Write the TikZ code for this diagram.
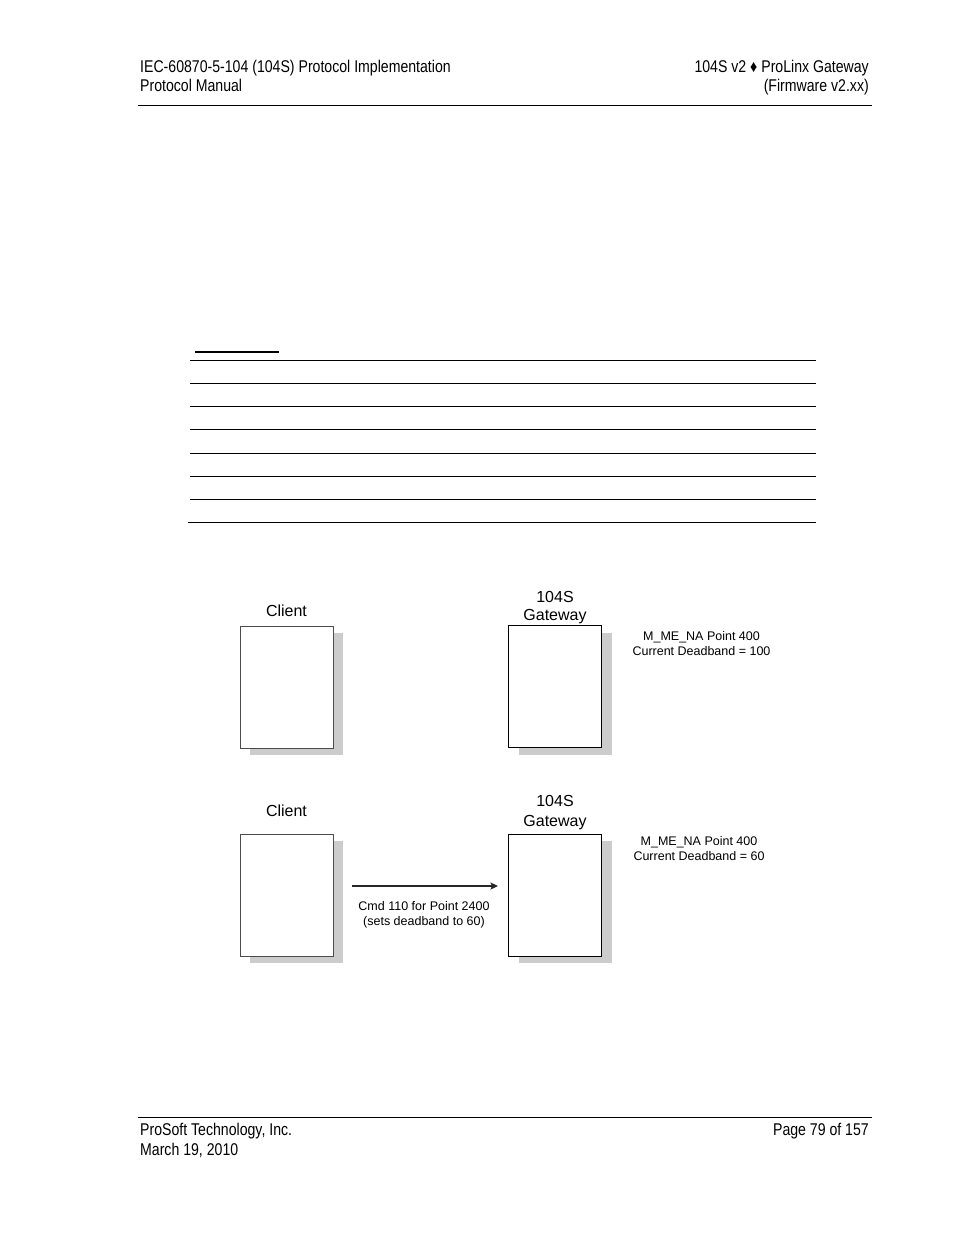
\documentclass[tikz,border=0pt]{standalone}
\usepackage{fontspec}
\setmainfont{Liberation Sans}
\newfontfamily\narrowfont{Liberation Sans}[FakeStretch=0.83]
\usetikzlibrary{arrows,arrows.meta,positioning,shadows}
\tikzset{
    %Define standard arrow tip
    >={Stealth[length=7.5pt,width=7pt,inset=1.5pt]},
    %Define style for page text
    pagetext/.style={
           inner sep=0pt,
           font=\narrowfont\fontsize{17}{19}\selectfont},
    %Define style for boxes
    device/.style={
           rectangle,
           draw=black!70,
           fill=white,
           line width=0.8pt,
           minimum width=93pt,
           minimum height=122pt,
           inner sep=0pt,
           drop shadow={shadow xshift=10pt, shadow yshift=-7pt,
                        fill=black!20, opacity=1}},
    gateway/.style={
           device,
           draw=black,
           line width=1pt},
    label/.style={
           inner sep=0pt,
           align=center,
           font=\fontsize{16}{18}\selectfont},
    info/.style={
           inner sep=0pt,
           align=center,
           font=\fontsize{12.5}{15}\selectfont},
    % Define arrow style
    pil/.style={
           ->,
           draw=black!85,
           line width=1.4pt,
           shorten <=19pt,
           shorten >=10pt}
}

\begin{document}
\begin{tikzpicture}[x=1pt,y=-1pt]
\useasboundingbox (0,0) rectangle (954,1235);
\fill[white] (0,0) rectangle (954,1235);

 %header and footer
\node[pagetext, anchor=base west] (hl1) at (140,72) {IEC-60870-5-104 (104S) Protocol Implementation};
\node[pagetext, anchor=base west] (hl2) at (140,91) {Protocol Manual};
\node[pagetext, anchor=base east] (hr1) at (869,72) {104S v2 ♦ ProLinx Gateway};
\node[pagetext, anchor=base east] (hr2) at (869,91) {(Firmware v2.xx)};
\draw[line width=1pt] (138,105) -- (872,105);

\draw[line width=1pt] (138,1117) -- (872,1117);
\node[pagetext, anchor=base west] (fl1) at (140,1135) {ProSoft Technology, Inc.};
\node[pagetext, anchor=base west] (fl2) at (140,1155) {March 19, 2010};
\node[pagetext, anchor=base east] (fr1) at (869,1135) {Page 79 of 157};

 %table rules
\draw[line width=2.4pt] (195,352) -- (279,352);
\foreach \y in {360.7,383.3,406.3,429.3,453.3,476.3,499.3}
    \draw[line width=1pt] (190,\y) -- (816,\y);
\draw[line width=1pt] (188,522.3) -- (816,522.3);

 %nodes
\node[device](client1) at (286.5,687){};
\node[gateway](gateway1) at (555,686.5){};
\node[label, above=8.5pt of client1](clientlbl1){Client};
\node[label, above=1pt of gateway1](gatewaylbl1){104S\\Gateway};
\node[info](info1) at (701.5,643.5){M\_ME\_NA Point 400\\Current Deadband = 100};

\node[device](client2) at (286.5,895){};
\node[gateway](gateway2) at (555,895){};
\node[label, above=17pt of client2](clientlbl2){Client};
\node[label, above=3.2pt of gateway2, font=\fontsize{16}{20}\selectfont](gatewaylbl2){104S\\Gateway};
\node[info](info2) at (699,848.5){M\_ME\_NA Point 400\\Current Deadband = 60};

\draw[pil] ([yshift=9pt]client2.east) -- ([yshift=9pt]gateway2.west);
\node[info](cmd) at (424,914.5){Cmd 110 for Point 2400\\(sets deadband to 60)};

\end{tikzpicture}
\end{document}
